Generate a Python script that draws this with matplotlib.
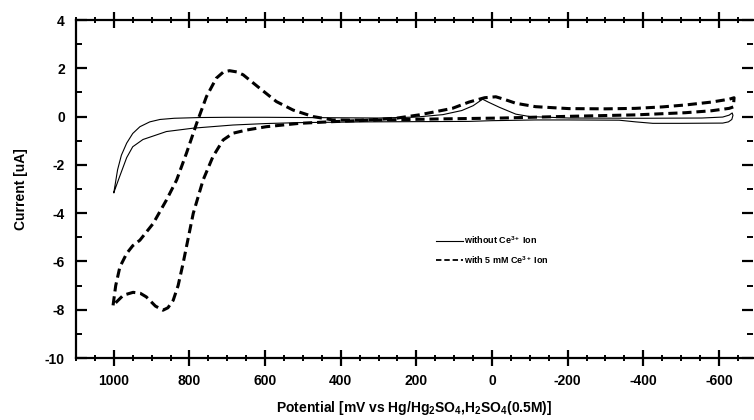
import matplotlib
matplotlib.use("Agg")
import matplotlib.pyplot as plt
from matplotlib.lines import Line2D
from matplotlib.ticker import MultipleLocator

plt.rcParams['font.family'] = ['Liberation Sans', 'DejaVu Sans']
plt.rcParams['font.weight'] = 'bold'
plt.rcParams['axes.unicode_minus'] = False
plt.rcParams['mathtext.fontset'] = 'custom'
plt.rcParams['mathtext.rm'] = 'Liberation Sans:bold'
plt.rcParams['mathtext.it'] = 'Liberation Sans:bold'
plt.rcParams['mathtext.bf'] = 'Liberation Sans:bold'
plt.rcParams['mathtext.default'] = 'rm'

# without Ce3+ (closed CV loop)
solid_x = [1000, 990, 980, 966, 950, 931, 905, 878, 840, 773, 700, 600, 500, 400, 300, 200, 130, 80, 50, 25,
           10, -20, -63, -100, -203, -400, -555, -610, -627, -635,
           -637, -634, -625, -610, -500, -425, -380, -336, -200, -115, 0, 61, 200, 332, 509, 600, 685, 790,
           861, 923, 950, 966, 985, 1000]
solid_y = [-3.15, -2.2, -1.6, -1.1, -0.7, -0.42, -0.22, -0.12, -0.07, -0.04, -0.03, -0.03, -0.04, -0.05, -0.06,
           -0.02, 0.08, 0.25, 0.45, 0.72,
           0.6, 0.38, 0.1, 0.0, -0.06, -0.07, -0.06, -0.02, 0.06, 0.15,
           0.05, -0.12, -0.22, -0.27, -0.28, -0.28, -0.22, -0.15, -0.14, -0.14, -0.17, -0.2, -0.21, -0.22, -0.25,
           -0.29, -0.35, -0.48,
           -0.62, -0.95, -1.25, -1.7, -2.5, -3.15]

# with 5 mM Ce3+ (closed CV loop)
dashed_x = [1002, 995, 984, 966, 950, 931, 896, 861, 834, 808, 781, 755, 729, 710, 694, 675, 658, 614, 570,
            526, 473, 421, 350, 300, 250, 193, 150, 105, 61, 20, -10, -35, -63, -115, -203, -300, -379, -450,
            -511, -580, -627, -640,
            -638, -627, -580, -511, -379, -203, -27, 149, 325, 421, 509, 597, 650, 685, 711, 738, 764, 790,
            817, 830, 843, 857, 870, 890, 914, 930, 949, 975, 1002]
dashed_y = [-7.82, -7.0, -6.23, -5.67, -5.35, -5.12, -4.43, -3.46, -2.63, -1.52, -0.28, 0.83, 1.59, 1.85, 1.9,
            1.85, 1.73, 1.17, 0.62,
            0.27, 0.0, -0.14, -0.15, -0.12, -0.06, 0.07, 0.2, 0.34, 0.6, 0.78, 0.82, 0.7, 0.55, 0.41, 0.33, 0.32,
            0.34, 0.4,
            0.48, 0.6, 0.72, 0.78,
            0.4, 0.34, 0.24, 0.16, 0.07, 0.01, -0.06, -0.1, -0.15, -0.21, -0.28, -0.42, -0.56, -0.69, -0.97,
            -1.66, -2.63, -4.01,
            -6.09, -7.0, -7.61, -7.92, -8.02, -7.85, -7.47, -7.32, -7.28, -7.4, -7.82]

labels = ['without Ce$^{3+}$ Ion', 'with 5 mM Ce$^{3+}$ Ion']

fig = plt.figure(figsize=(7.54, 4.2), dpi=100)
ax = fig.add_axes([76/754, 1-358/420, 677/754, 338/420])

ax.plot(solid_x, solid_y, color='black', lw=0.8)
ax.plot(dashed_x, dashed_y, color='black', lw=2.2, dashes=(3, 1.6))

ax.set_xlim(1100, -690)
ax.set_ylim(-10, 4)
ax.xaxis.set_major_locator(MultipleLocator(200))
ax.xaxis.set_minor_locator(MultipleLocator(50))
ax.yaxis.set_major_locator(MultipleLocator(2))
ax.yaxis.set_minor_locator(MultipleLocator(1))

for s in ax.spines.values():
    s.set_linewidth(1.6)
ax.spines['right'].set_visible(False)

ax.tick_params(axis='x', which='major', direction='inout', length=11, width=1.6, top=True,
               labelsize=10, pad=6)
ax.tick_params(axis='x', which='minor', direction='inout', length=5, width=1.4, top=True)
ax.tick_params(axis='y', which='major', direction='in', length=8, width=1.6, right=True,
               labelsize=10, pad=8)
ax.tick_params(axis='y', which='minor', direction='in', length=4, width=1.4, right=True)
for lab in ax.get_xticklabels() + ax.get_yticklabels():
    lab.set_fontweight('bold')

ax.set_xlabel('Potential [mV vs Hg/Hg$_2$SO$_4$,H$_2$SO$_4$(0.5M)]', fontsize=10, fontweight='bold', labelpad=8)
ax.set_ylabel('Current [uA]', fontsize=10, fontweight='bold', labelpad=12)

handles = [Line2D([], [], color='black', lw=0.8),
           Line2D([], [], color='black', lw=1.3, dashes=(3, 1.6))]
ax.legend(handles, labels, loc='upper left', bbox_to_anchor=((428-76)/677, (358-226)/338),
          frameon=False, handlelength=3.0, handletextpad=0.1, labelspacing=0.9,
          prop={'size': 6.5, 'weight': 'bold'})

fig.savefig('out.png', dpi=100)
